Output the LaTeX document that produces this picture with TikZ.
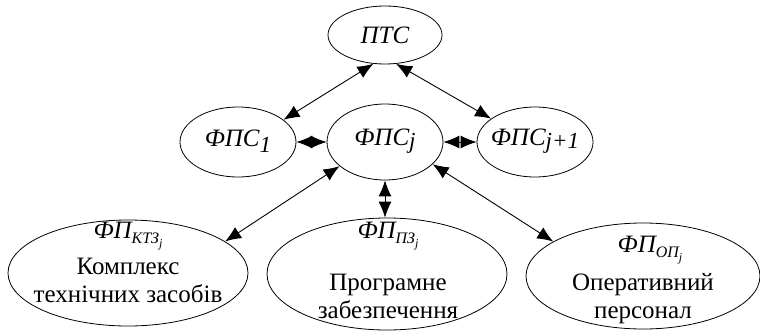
\documentclass[tikz,border=0pt]{standalone}
\usepackage{fontspec}
\setmainfont{Liberation Serif}
\usetikzlibrary{shapes.geometric,arrows.meta}
\newcommand\dn[2][-0.4ex]{\raisebox{#1}{#2}}
\newcommand\subs[1]{\dn[-0.45ex]{\fontsize{16}{16}\selectfont\itshape #1}}
\newcommand\subsub[1]{\dn[-0.5ex]{\fontsize{12}{12}\selectfont\itshape #1}}

\begin{document}
\begin{tikzpicture}[x=1pt,y=-1pt,
		el/.style = {draw, ellipse, inner sep=0pt, line width=0.8pt},
		txt/.style = {font=\rmfamily\fontsize{25}{28}\selectfont},
		arr/.style = {{Latex[length=16pt,width=13pt]}-{Latex[length=16pt,width=13pt]}, line width=0.9pt}]
		\useasboundingbox (0,0) rectangle (760,332);
		\node [el, minimum width=114, minimum height=58] (pts) at (385,35) {};
		\node [el, minimum width=116, minimum height=70] (fps1) at (238,142) {};
		\node [el, minimum width=116, minimum height=76] (fpsj) at (385,142) {};
		\node [el, minimum width=116, minimum height=70] (fpsj1) at (535,142) {};
		\node [el, minimum width=240, minimum height=106] (ktz) at (128,273) {};
		\node [el, minimum width=240, minimum height=112] (pz) at (387,274) {};
		\node [el, minimum width=234, minimum height=106] (op) at (643,276) {};
		% labels
		\node [txt] (ptsT) at (385,35) {\itshape ПТС};
		\node [txt] (fps1T) at (238,141) {\itshape ФПС\dn[-0.55ex]{\fontsize{23}{23}\selectfont 1}};
		\node [txt] (fpsjT) at (385,141) {\itshape ФПС\dn[-0.3ex]{\fontsize{23}{23}\selectfont j}};
		\node [txt] (fpsj1T) at (535,141) {\itshape ФПС\dn[-0.3ex]{\fontsize{23}{23}\selectfont j+1}};
		\node [txt] (ktzH) at (128,236) {\itshape ФП\subs{КТЗ\subsub{j}}};
		\node [txt, align=center] (ktzT) at (128,280) {Комплекс\\технічних засобів};
		\node [txt] (pzH) at (388,236) {\itshape ФП\subs{ПЗ\subsub{j}}};
		\node [txt, align=center] (pzT) at (388,296) {Програмне\\забезпечення};
		\node [txt] (opH) at (650,250) {\itshape ФП\subs{ОП\subsub{j}}};
		\node [txt, align=center] (opT) at (643,299) {Оперативний\\персонал};
		% connectors
		\draw [arr] (pts.248) -- (fps1.26);
		\draw [arr] (pts.291) -- (fpsj1.152);
		\draw [arr] (fps1.east) -- (fpsj.west);
		\draw [arr] (fpsj.east) -- (fpsj1.west);
		\draw [arr] (fpsj.208) -- (ktz.18);
		\draw [arr] (fpsj.south) -- (fpsj.south |- pz.north);
		\draw [arr] (fpsj.335) -- (op.159);
	\end{tikzpicture}
\end{document}
